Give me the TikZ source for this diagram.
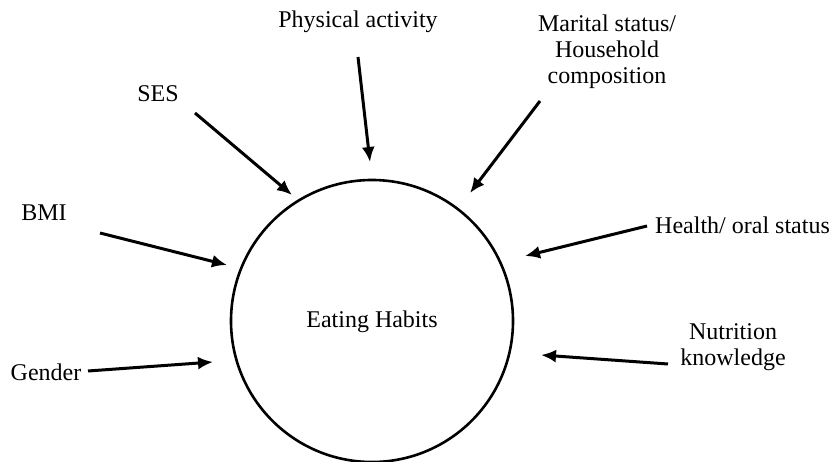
\documentclass[tikz,border=0pt]{standalone}
\usepackage{fontspec}
\setmainfont{Liberation Serif}
\usepackage{tikz}
\usetikzlibrary{arrows.meta}

\begin{document}
\begin{tikzpicture}[x=1pt,y=-1pt,
      factor/.style={align=center,font=\fontsize{24}{26}\selectfont,inner sep=0pt},
      arr/.style={line width=3pt,-{Latex[length=15pt,width=13pt]}}]
      \useasboundingbox (0,0) rectangle (832,462);
      \node[circle,draw,line width=2.6pt,minimum size=282pt,inner sep=0pt] (eat) at (372,321) {};
      \node[factor] (habits) at (372,322) {Eating Habits};
      \node[factor] (pa) at (358,22) {Physical activity};
      \node[factor] (ses) at (158,94) {SES};
      \node[factor] (mar) at (607,52) {Marital status/\\Household\\composition};
      \node[factor] (bmi) at (44,213) {BMI};
      \node[factor,anchor=west] (hea) at (655,225) {Health/ oral status};
      \node[factor] (nut) at (733,347) {Nutrition\\knowledge};
      \node[factor] (gen) at (46,372) {Gender};
      % arrow ends
      \coordinate (paS) at (358,57);   \coordinate (paE) at (370,162);
      \coordinate (sesS) at (195,113); \coordinate (sesE) at (292,195);
      \coordinate (marS) at (540,101); \coordinate (marE) at (470,193);
      \coordinate (bmiS) at (100,233); \coordinate (bmiE) at (227,265);
      \coordinate (heaS) at (647,226); \coordinate (heaE) at (525,256);
      \coordinate (genS) at (88,371);  \coordinate (genE) at (213,362);
      \coordinate (nutS) at (668,364); \coordinate (nutE) at (541,355);
      \draw[arr] (paS) -- (paE);
      \draw[arr] (sesS) -- (sesE);
      \draw[arr] (marS) -- (marE);
      \draw[arr] (bmiS) -- (bmiE);
      \draw[arr] (heaS) -- (heaE);
      \draw[arr] (genS) -- (genE);
      \draw[arr] (nutS) -- (nutE);
\end{tikzpicture}
\end{document}
